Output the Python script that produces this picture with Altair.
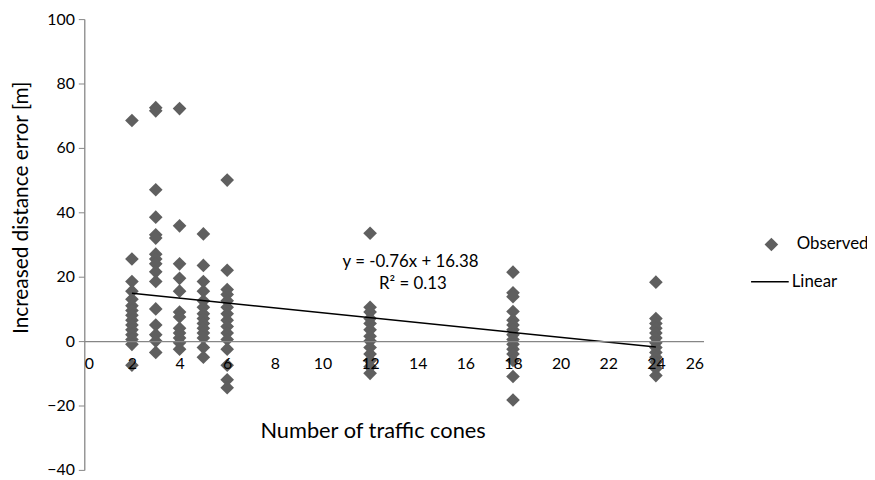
import altair as alt
import pandas as pd

# Observed values per number of traffic cones
cones = [2, 3, 4, 5, 6, 12, 18, 24]
err_2 = [68.5, 25.5, 18.5, 15.5, 13, 11, 9.5, 8, 6.5, 5, 3.5, 2, 0.5, -1, -7.5]
err_3 = [72.5, 71.5, 47, 38.5, 33, 32, 27, 25.5, 24, 21.5, 18.5, 10, 5, 2, 0, -3.5]
err_4 = [72.2, 35.8, 24, 19.5, 15.5, 9, 7.5, 4, 2.5, 1, -0.5, -2.5]
err_5 = [33.3, 23.5, 18.5, 15.5, 12.5, 10.5, 8.5, 7, 5.5, 4, 2.5, 1, -2, -5]
err_6 = [50, 22, 16, 14.5, 12.5, 10.5, 8.5, 6.5, 4.5, 2.5, 0.5, -2.5, -7.5, -12, -14.5]
err_12 = [33.5, 10.5, 9, 7, 5.5, 3.5, 1.5, 0, -2, -4, -6, -8, -10]
err_18 = [21.4, 15, 13.8, 9.2, 6.5, 5, 3.5, 2, 0.5, -1, -2.5, -4, -6, -11, -18.3]
err_24 = [18.3, 7, 5.5, 4, 2.5, 1, -0.5, -2, -3.5, -5, -6.5, -8.5, -10.7]
errors = [err_2, err_3, err_4, err_5, err_6, err_12, err_18, err_24]

# Linear trend (endpoints of the fitted line)
trend_x = [2, 24]
trend_y = [14.86, -1.86]

# Annotation
eq_text = ["y = -0.76x + 16.38", "R² = 0.13"]
eq_x = [13.7, 13.8]
eq_y = [24.5, 17.7]

x_ticks = list(range(0, 27, 2))
y_ticks = list(range(-40, 101, 20))

rows = []
for c, vals in zip(cones, errors):
    for v in vals:
        rows.append({"x": c, "y": v, "series": "Observed"})
obs = pd.DataFrame(rows)
trend = pd.DataFrame({"x": trend_x, "y": trend_y, "fit": ["Linear"] * len(trend_x)})
ann = pd.DataFrame({"x": eq_x, "y": eq_y, "t": eq_text})

W, H = 625, 455
FONT = "Lato"
AX = "#868686"

xscale = alt.Scale(domain=[0, 26], nice=False, zero=False)
yscale = alt.Scale(domain=[-40, 100], nice=False, zero=False)

xaxis = alt.Axis(
    values=x_ticks, offset=-H * 40 / 140, ticks=False, grid=False, zindex=1,
    domainColor=AX, domainWidth=1.3, labelFontSize=16, labelColor="black",
    labelPadding=15, title="Number of traffic cones", titleFontSize=22,
    titleFontWeight="normal", titleColor="black", titleX=291, titleY=90,
    titleBaseline="middle", titleAnchor="middle",
)
yaxis = alt.Axis(
    values=y_ticks, grid=False, domainColor=AX, domainWidth=1.3,
    tickColor=AX, tickSize=6, labelFontSize=16, labelColor="black",
    labelPadding=4, title="Increased distance error [m]", titleFontSize=21,
    titleFontWeight="normal", titleColor="black", titleX=-63, titleY=190,
    titleBaseline="middle", titleAnchor="middle", titleAngle=270,
)

points = alt.Chart(obs).mark_point(filled=True, color="#5f5f5f", opacity=1, size=190).encode(
    x=alt.X("x:Q", scale=xscale, axis=xaxis),
    y=alt.Y("y:Q", scale=yscale, axis=yaxis),
    shape=alt.Shape(
        "series:N",
        scale=alt.Scale(domain=["Observed"], range=["diamond"]),
        legend=alt.Legend(
            orient="none", legendX=685, legendY=219, title=None,
            symbolFillColor="#5f5f5f", symbolStrokeWidth=0, symbolSize=190,
            symbolOpacity=1, labelOffset=17, labelFontSize=17, labelColor="black",
            padding=0,
        ),
    ),
)

line = alt.Chart(trend).mark_line(color="black", strokeWidth=1.5).encode(
    x=alt.X("x:Q", scale=xscale),
    y=alt.Y("y:Q", scale=yscale),
    color=alt.Color(
        "fit:N",
        scale=alt.Scale(domain=["Linear"], range=["black"]),
        legend=alt.Legend(
            orient="none", legendX=672, legendY=245, title=None,
            symbolType="stroke", symbolSize=1444, symbolStrokeWidth=1.5,
            labelOffset=2, labelFontSize=17, labelColor="black", padding=0,
        ),
    ),
)

text = alt.Chart(ann).mark_text(fontSize=17, color="black", align="center", baseline="middle", font=FONT).encode(
    x=alt.X("x:Q", scale=xscale),
    y=alt.Y("y:Q", scale=yscale),
    text="t:N",
)

chart = alt.layer(points, line, text).properties(
    width=W, height=H,
    autosize=alt.AutoSizeParams(type="none"),
    padding={"left": 77, "top": 9, "right": 165, "bottom": 10},
).configure(font=FONT).configure_view(stroke=None).configure_legend(
    labelFont=FONT
)

chart.save("out.html", embed_options={"renderer": "svg", "actions": False})
